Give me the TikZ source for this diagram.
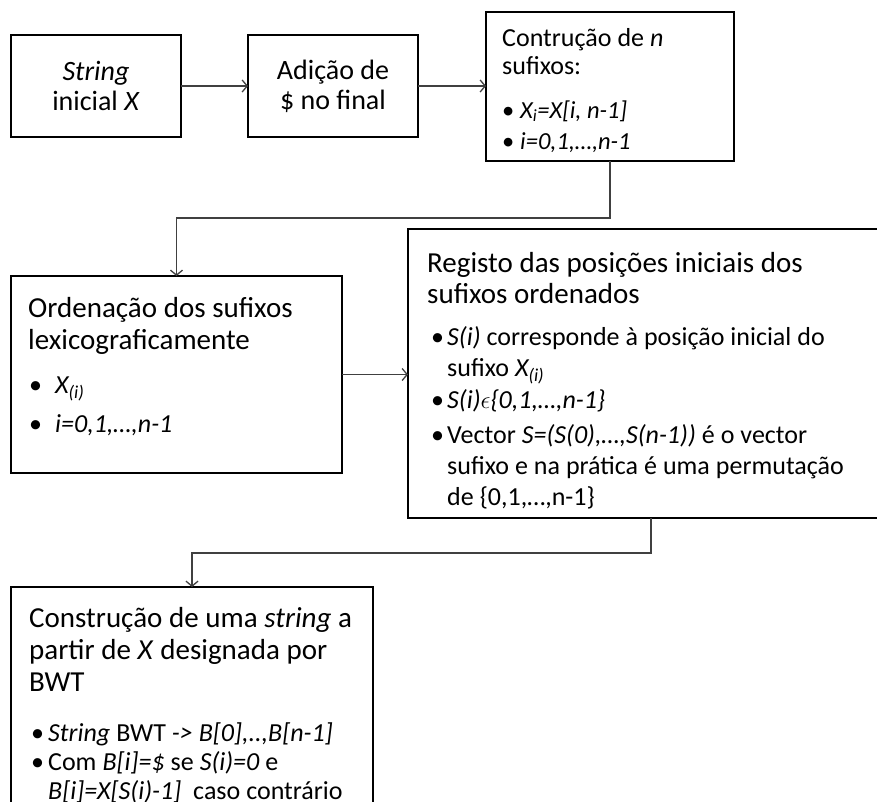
\documentclass[tikz,border=0pt]{standalone}
\usepackage{fontspec}
\setmainfont{Carlito}
\usetikzlibrary{arrows.meta, positioning}

\setlength{\parindent}{0pt}
\hyphenpenalty=10000
\exhyphenpenalty=10000
% bullet paragraph: #1 bullet offset, #2 text offset
\newcommand{\marca}[2]{\par\hangindent=#2\hangafter=1\noindent\hspace*{#1}\makebox[\dimexpr#2-#1\relax][l]{\textbullet}}
\newcommand{\espaco}{\spaceskip=0.23em plus 0.02em minus 0.02em\relax}
\newcommand{\itens}[2]{\fontsize{#1}{#2}\selectfont\espaco}

\begin{document}
\begin{tikzpicture}[x=1pt, y=-1pt,
    caixa/.style={draw, line width=2.4pt, rectangle, inner sep=0pt, outer sep=0pt, anchor=north west},
    texto/.style={anchor=north west, inner sep=0pt, text width=#1, align=flush left, font=\fontsize{29}{32}\selectfont},
    ligacao/.style={draw=black!75, line width=1.3pt, -{Straight Barb[length=5pt, width=12pt]}}]
    \useasboundingbox (0,0) rectangle (877,801);
    \clip (0,0) rectangle (877,801);

    % first row
    \node[caixa, minimum width=170pt, minimum height=102pt, align=center,
          font=\fontsize{28}{30}\selectfont] (inicial) at (11,35)
          {\textit{String}\\inicial \textit{X}};
    \node[caixa, minimum width=170pt, minimum height=102pt, align=center,
          font=\fontsize{28}{30}\selectfont] (adicao) at (248,35)
          {Adição de\\\$ no final};
    \node[caixa, minimum width=248pt, minimum height=149pt] (sufixos) at (486,12) {};
    \node[texto=230pt, font=\fontsize{26}{28}\selectfont] (txtsufixos) at (502,28)
          {\espaco Contrução de \textit{n}\newline sufixos:\par\vspace{16pt}
           \itens{24.5}{28}
           \marca{0pt}{18pt}\textit{X\textsubscript{i}=X[i, n-1]}\par\vspace{3pt}
           \marca{0pt}{18pt}\textit{i=0,1,…,n-1}\par};

    % second row
    \node[caixa, minimum width=331pt, minimum height=197pt] (ordenacao) at (11,276) {};
    \node[texto=300pt] (txtordenacao) at (28,297)
          {\espaco Ordenação dos sufixos\newline lexicograficamente\par\vspace{14pt}
           \itens{26}{30}
           \marca{1pt}{27pt}\textit{X\textsubscript{(i)}}\par\vspace{9pt}
           \marca{1pt}{27pt}\textit{i=0,1,…,n-1}\par};
    \node[caixa, minimum width=486pt, minimum height=289pt] (registo) at (408,229) {};
    \node[texto=440pt, font=\fontsize{29}{31}\selectfont] (txtregisto) at (427,252)
          {\espaco Registo das posições iniciais dos\newline sufixos ordenados\par\vspace{11pt}
           \itens{26}{31}
           \marca{4pt}{20pt}\textit{S(i)} corresponde à posição inicial do\newline sufixo \textit{X\textsubscript{(i)}}\par\vspace{1pt}
           \marca{4pt}{20pt}\textit{S(i)}$\epsilon$\textit{\{0,1,…,n-1\}}\par\vspace{4pt}
           \marca{4pt}{20pt}Vector \textit{S=(S(0),…,S(n-1))} é o vector\newline sufixo e na prática é uma permutação\newline de \{0,1,…,n-1\}\par};

    % third row
    \node[caixa, minimum width=362pt, minimum height=240pt] (construcao) at (11,587) {};
    \node[texto=340pt] (txtconstrucao) at (29,607)
          {\espaco Construção de uma \textit{string} a\newline partir de \textit{X} designada por\newline BWT\par\vspace{21pt}
           \itens{26}{29}
           \marca{2pt}{19pt}\textit{String} BWT \textit{->} \textit{B[0],..,B[n-1]}\par
           \marca{2pt}{19pt}Com \textit{B[i]=\$} se \textit{S(i)=0} e\newline\textit{B[i]=X[S(i)-1]}\ \ caso contrário\par};

    % connectors
    \draw[ligacao] (inicial) -- (adicao);
    \draw[ligacao] (adicao) -- (adicao -| sufixos.west);
    \draw[ligacao] (sufixos.south) -- ++(0,57) -| (ordenacao.north);
    \draw[ligacao] (ordenacao.east) -- (ordenacao.east -| registo.west);
    \draw[ligacao] (registo.south) -- ++(0,35) -| (construcao.north);
\end{tikzpicture}
\end{document}
